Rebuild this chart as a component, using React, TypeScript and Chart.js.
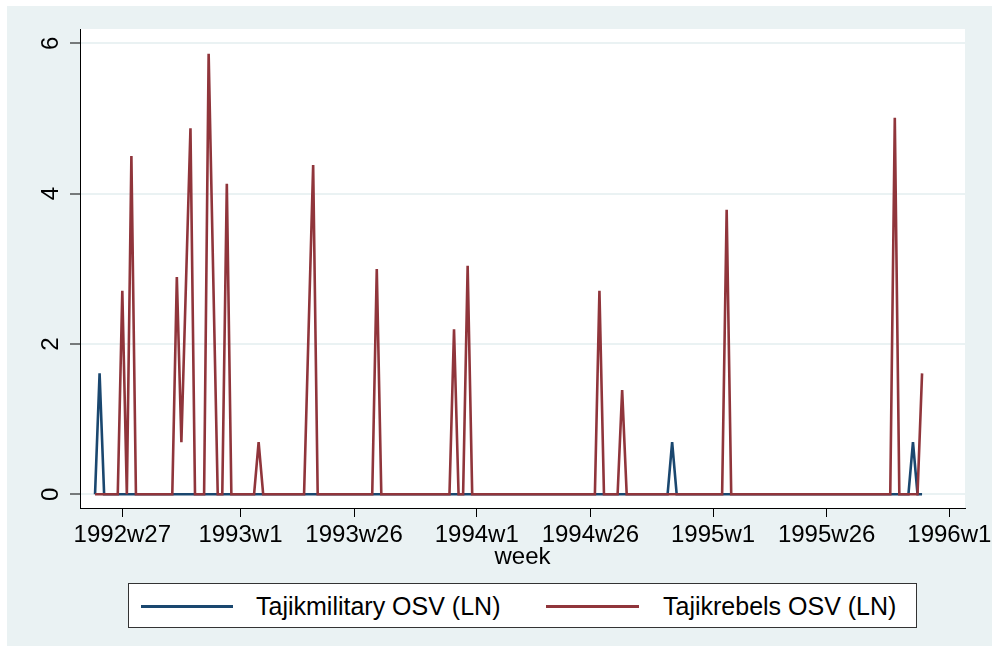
import React, { useEffect, useRef } from "react";
import { Chart, registerables } from "chart.js";

Chart.register(...registerables);

// Week index: 0 = 1992w1 (52 weeks per year, Stata %tw)
const militaryWeeks = [20, 21, 22, 146, 147, 148, 199, 200, 201, 202];
const militaryValues = [0, 1.609, 0, 0, 0.693, 0, 0, 0.693, 0, 0];

const rebelsWeeks = [
  20, 25, 26, 27, 28, 29, 37, 38, 39, 41, 42, 44, 45, 47, 48, 49, 50, 55, 56, 57,
  66, 68, 69, 81, 82, 83, 98, 99, 100, 101, 102, 103, 130, 131, 132, 135, 136, 137,
  158, 159, 160, 195, 196, 197, 201, 202,
];
const rebelsValues = [
  0, 0, 2.708, 0, 4.5, 0, 0, 2.89, 0.693, 4.87, 0, 0, 5.86, 0, 0, 4.13, 0, 0, 0.693, 0,
  0, 4.38, 0, 0, 2.996, 0, 0, 2.197, 0, 0, 3.04, 0, 0, 2.708, 0, 0, 1.386, 0,
  0, 3.784, 0, 0, 5.01, 0, 0, 1.609,
];

const xTickValues = [26, 52, 77, 104, 129, 156, 181, 208];
const xTickLabels = ["1992w27", "1993w1", "1993w26", "1994w1", "1994w26", "1995w1", "1995w26", "1996w1"];
const yTickValues = [0, 2, 4, 6];

const seriesNames = ["Tajikmilitary OSV (LN)", "Tajikrebels OSV (LN)"];

const NAVY = "rgb(26,71,111)";
const MAROON = "rgb(144,53,59)";
const BG = "rgb(234,242,243)";
const GRID = "rgb(234,242,243)";
const FONT = "'Liberation Sans', Arial, sans-serif";

const bgPlugin = {
  id: "plotBg",
  beforeDraw(chart: any) {
    const { ctx, chartArea } = chart;
    ctx.save();
    ctx.fillStyle = "#ffffff";
    ctx.fillRect(chartArea.left, chartArea.top, chartArea.right - chartArea.left, chartArea.bottom - chartArea.top);
    ctx.restore();
  },
};

const yLabelPlugin = {
  id: "yLabels",
  afterDraw(chart: any) {
    const { ctx } = chart;
    const ys = chart.scales.y;
    ctx.save();
    ctx.fillStyle = "#000";
    ctx.font = `24px ${FONT}`;
    ctx.textAlign = "center";
    ctx.textBaseline = "middle";
    yTickValues.forEach((v) => {
      const py = ys.getPixelForValue(v);
      ctx.save();
      ctx.translate(51, py);
      ctx.rotate(-Math.PI / 2);
      ctx.fillText(String(v), 0, 0);
      ctx.restore();
    });
    ctx.restore();
  },
};

export default function App() {
  const ref = useRef<HTMLCanvasElement>(null);

  useEffect(() => {
    const canvas = ref.current!;
    const chart = new Chart(canvas, {
      type: "line",
      data: {
        datasets: [
          {
            label: seriesNames[0],
            data: militaryWeeks.map((w, i) => ({ x: w, y: militaryValues[i] })),
            borderColor: NAVY,
            backgroundColor: NAVY,
            borderWidth: 2.6,
            pointRadius: 0,
            tension: 0,
            order: 1,
          },
          {
            label: seriesNames[1],
            data: rebelsWeeks.map((w, i) => ({ x: w, y: rebelsValues[i] })),
            borderColor: MAROON,
            backgroundColor: MAROON,
            borderWidth: 2.6,
            pointRadius: 0,
            tension: 0,
            order: 0,
          },
        ],
      },
      options: {
        responsive: false,
        animation: false,
        devicePixelRatio: 1,
        layout: { padding: { left: 0, top: 29, right: 33, bottom: 0 } },
        plugins: { legend: { display: false }, tooltip: { enabled: false } },
        scales: {
          x: {
            type: "linear",
            min: 16.69,
            max: 211.45,
            afterBuildTicks: (s: any) => {
              s.ticks = xTickValues.map((v) => ({ value: v }));
            },
            afterFit: (s: any) => {
              s.height = 67;
            },
            grid: { drawOnChartArea: false, drawTicks: true, tickLength: 9, tickColor: "#000", tickWidth: 1 },
            border: { display: true, color: "#000", width: 1 },
            ticks: {
              autoSkip: false,
              maxRotation: 0,
              minRotation: 0,
              padding: 4,
              color: "#000",
              font: { family: FONT, size: 24 },
              callback: (v: any) => {
                const i = xTickValues.indexOf(Number(v));
                return i >= 0 ? xTickLabels[i] : "";
              },
            },
            title: {
              display: true,
              text: "week",
              color: "#000",
              font: { family: FONT, size: 24 },
              padding: { top: 0, bottom: 3 },
            },
          },
          y: {
            type: "linear",
            min: -0.182,
            max: 6.19,
            afterBuildTicks: (s: any) => {
              s.ticks = yTickValues.map((v) => ({ value: v }));
            },
            afterFit: (s: any) => {
              s.width = 80;
            },
            grid: { color: GRID, lineWidth: 2, drawTicks: true, tickLength: 10, tickColor: "#000", tickWidth: 1 },
            border: { display: true, color: "#000", width: 1 },
            ticks: { display: false },
          },
        },
      },
      plugins: [bgPlugin, yLabelPlugin],
    } as any);
    return () => chart.destroy();
  }, []);

  const legendText: React.CSSProperties = {
    position: "absolute",
    top: 0,
    height: 45,
    lineHeight: "45px",
    fontFamily: FONT,
    fontSize: 25,
    color: "#000",
    whiteSpace: "nowrap",
  };

  return (
    <div style={{ position: "absolute", left: 0, top: 0, width: 998, height: 651, background: "#fff", overflow: "hidden" }}>
      <div style={{ position: "absolute", left: 7, top: 6, width: 985, height: 640, background: BG }} />
      <canvas ref={ref} width={998} height={575} style={{ position: "absolute", left: 0, top: 0, width: 998, height: 575 }} />
      <div
        style={{
          position: "absolute",
          left: 128,
          top: 583,
          width: 787,
          height: 43,
          background: "#fff",
          border: "1px solid #333",
        }}
      >
        <div style={{ position: "absolute", left: 12, top: 21, width: 92, height: 2.5, background: NAVY }} />
        <div style={{ ...legendText, left: 127 }}>{seriesNames[0]}</div>
        <div style={{ position: "absolute", left: 417, top: 21, width: 93, height: 2.5, background: MAROON }} />
        <div style={{ ...legendText, left: 534 }}>{seriesNames[1]}</div>
      </div>
    </div>
  );
}
